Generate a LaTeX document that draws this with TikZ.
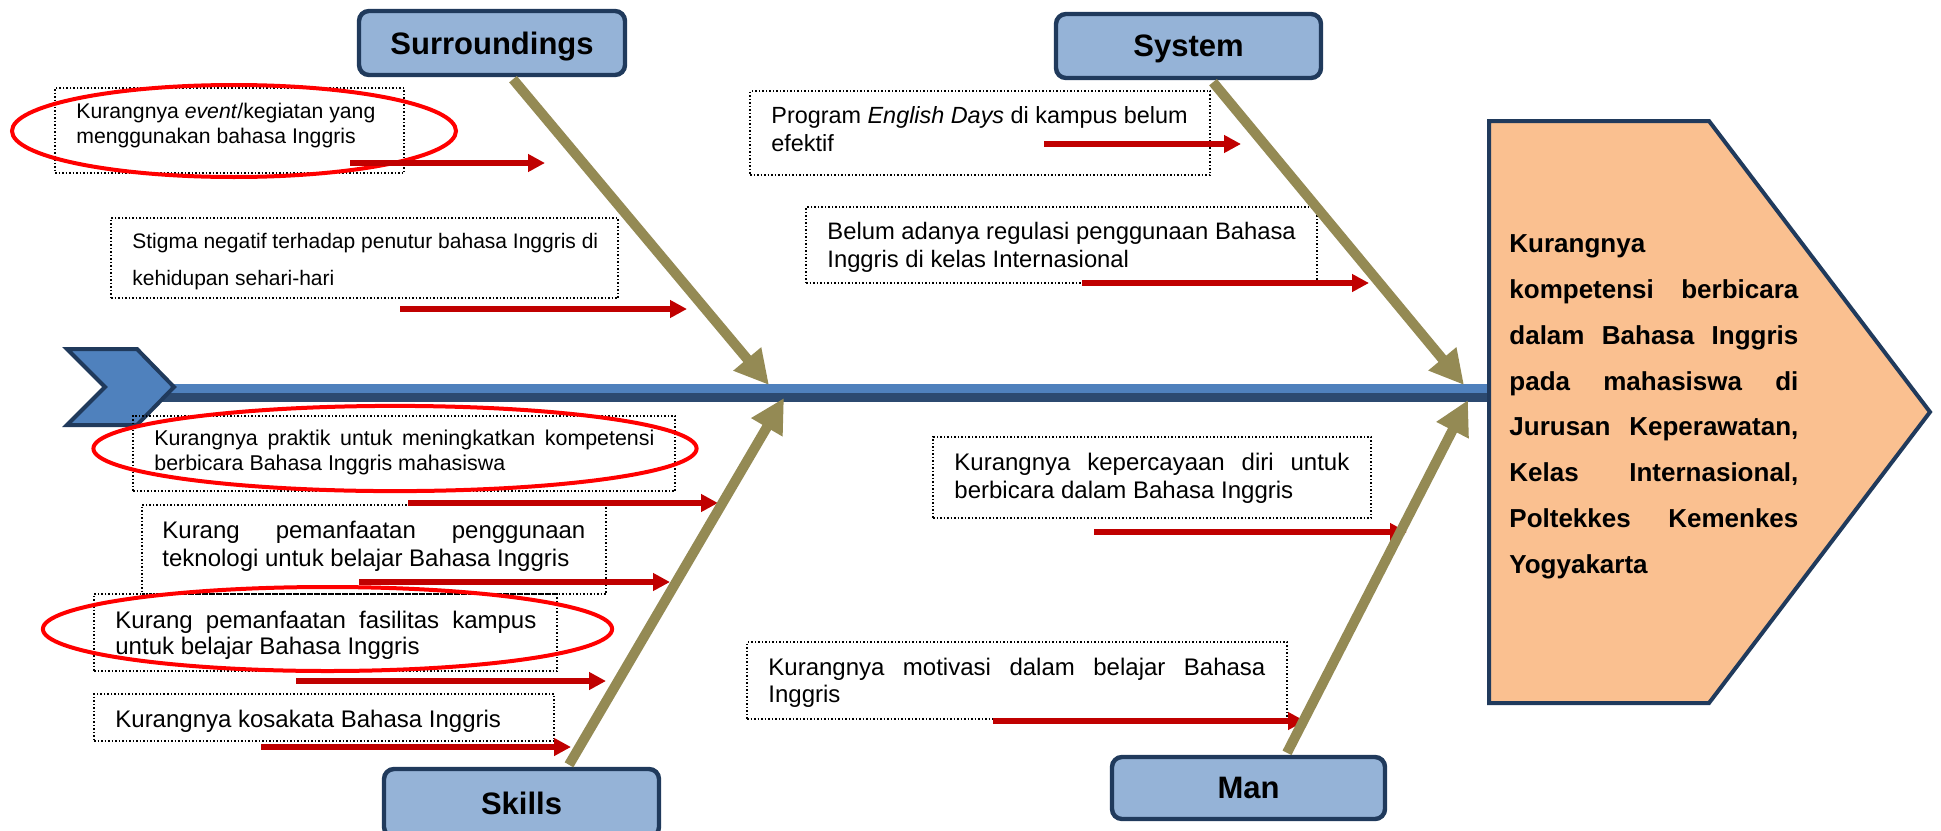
\documentclass[tikz,border=0pt]{standalone}
\usepackage{fontspec}
\setmainfont{Liberation Sans}
\usetikzlibrary{arrows.meta,calc}
\definecolor{navy}{HTML}{203A5C}
\definecolor{headfill}{HTML}{95B3D7}
\definecolor{chevfill}{HTML}{4F81BD}
\definecolor{spinedark}{HTML}{2C4A70}
\definecolor{effectfill}{HTML}{FAC090}
\definecolor{bonecol}{HTML}{948A54}
\definecolor{arrred}{HTML}{C00000}
\definecolor{ellred}{HTML}{FF0000}
\tikzset{
  header/.style={draw=navy, line width=2.2pt, fill=headfill, rounded corners=5pt,
    font=\fontsize{15.5}{18}\selectfont\bfseries, text depth=0pt, inner sep=0pt},
  cbox/.style={draw=black, densely dotted, line width=0.75pt, inner sep=0pt},
  ctext/.style={anchor=north west, inner sep=0pt, align=left},
  bone/.style={draw=bonecol, line width=5pt, -{Triangle[length=17pt,width=17pt]}},
  redarrow/.style={draw=arrred, line width=3pt, -{Triangle[length=8.5pt,width=8.5pt]}},
  ring/.style={draw=ellred, line width=2pt},
}
\begin{document}
\begin{tikzpicture}[x=0.5pt,y=-0.5pt]
\useasboundingbox (0,0) rectangle (1941,830);

% spine
\coordinate (spineL) at (140,393);
\coordinate (spineR) at (1487,393);
\draw[spinedark, line width=4.5pt] ([yshift=-2.25pt]spineL) -- ([yshift=-2.25pt]spineR);
\draw[chevfill, line width=4.5pt] ([yshift=2.25pt]spineL) -- ([yshift=2.25pt]spineR);

% head chevron
\draw[draw=navy, line width=2pt, fill=chevfill, line join=miter]
  (67,349) -- (137,349) -- (174,387) -- (137,425) -- (67,425) -- (105,387) -- cycle;

% effect pentagon
\draw[draw=navy, line width=2pt, fill=effectfill, line join=miter]
  (1489,121) -- (1709,121) -- (1930,412) -- (1709,703) -- (1489,703) -- cycle;
\node[ctext, font=\bfseries\fontsize{13}{22.9}\selectfont] (effect) at (1509,234.4)
  {Kurangnya\\
   \makebox[144.5pt][s]{kompetensi berbicara}\\
   \makebox[144.5pt][s]{dalam Bahasa Inggris}\\
   \makebox[144.5pt][s]{pada mahasiswa di}\\
   \makebox[144.5pt][s]{Jurusan Keperawatan,}\\
   \makebox[144.5pt][s]{Kelas Internasional,}\\
   \makebox[144.5pt][s]{Poltekkes Kemenkes}\\
   Yogyakarta};

% cause boxes
\node[cbox, minimum width=174.5pt, minimum height=42.5pt] (c1) at (229.5,130.5) {};
\node[cbox, minimum width=253.5pt, minimum height=40pt] (c2) at (364.5,258) {};
\node[cbox, minimum width=230pt, minimum height=42pt] (c3) at (980,133) {};
\node[cbox, minimum width=255.5pt, minimum height=38pt] (c4) at (1061.5,245) {};
\node[cbox, minimum width=271pt, minimum height=37.5pt] (c5) at (404,453.5) {};
\node[cbox, minimum width=232pt, minimum height=44.5pt] (c6) at (374,549.5) {};
\node[cbox, minimum width=231.5pt, minimum height=38.5pt] (c7) at (325.5,632.5) {};
\node[cbox, minimum width=230pt, minimum height=23.5pt] (c8) at (324,717.5) {};
\node[cbox, minimum width=219pt, minimum height=40.5pt] (c9) at (1152,477.5) {};
\node[cbox, minimum width=270pt, minimum height=38.5pt] (c10) at (1017,680.5) {};

% cause texts
\node[ctext, font=\fontsize{10.6}{12.5}\selectfont] (t1) at (76,102.8)
  {Kurangnya \textit{event}/kegiatan yang\\menggunakan bahasa Inggris};
\node[ctext, font=\fontsize{10.5}{18.5}\selectfont] (t2) at (132,233)
  {Stigma negatif terhadap penutur bahasa Inggris di\\kehidupan sehari-hari};
\node[ctext, font=\fontsize{11.7}{14}\selectfont] (t3) at (771,106.2)
  {Program \textit{English Days} di kampus belum\\efektif};
\node[ctext, font=\fontsize{11.9}{14}\selectfont] (t4) at (827,222)
  {Belum adanya regulasi penggunaan Bahasa\\Inggris di kelas Internasional};
\node[ctext, font=\fontsize{10.7}{12.5}\selectfont] (t5) at (154,429.7)
  {\makebox[250pt][s]{Kurangnya praktik untuk meningkatkan kompetensi}\\berbicara Bahasa Inggris mahasiswa};
\node[ctext, font=\fontsize{12}{14}\selectfont] (t6) at (162,520.8)
  {\makebox[211.5pt][s]{Kurang pemanfaatan penggunaan}\\teknologi untuk belajar Bahasa Inggris};
\node[ctext, font=\fontsize{12}{13}\selectfont] (t7) at (115,610.8)
  {\makebox[210.5pt][s]{Kurang pemanfaatan fasilitas kampus}\\untuk belajar Bahasa Inggris};
\node[ctext, font=\fontsize{12}{14}\selectfont] (t8) at (115,709.8)
  {Kurangnya kosakata Bahasa Inggris};
\node[ctext, font=\fontsize{12}{14}\selectfont] (t9) at (954,452.8)
  {\makebox[197.5pt][s]{Kurangnya kepercayaan diri untuk}\\berbicara dalam Bahasa Inggris};
\node[ctext, font=\fontsize{12}{13.5}\selectfont] (t10) at (768,657.8)
  {\makebox[248.5pt][s]{Kurangnya motivasi dalam belajar Bahasa}\\Inggris};

% red rings
\draw[ring] (234,131) ellipse [x radius=111pt, y radius=23pt];
\draw[ring] (395,448.5) ellipse [x radius=150.8pt, y radius=21.3pt];
\draw[ring] (327.5,629) ellipse [x radius=142.3pt, y radius=21pt];

% red arrows
\coordinate (a1s) at (350,163);  \coordinate (a1e) at (545,163);
\coordinate (a2s) at (400,309);  \coordinate (a2e) at (687,309);
\coordinate (a3s) at (1044,144); \coordinate (a3e) at (1241,144);
\coordinate (a4s) at (1082,283); \coordinate (a4e) at (1369,283);
\coordinate (a5s) at (408,503);  \coordinate (a5e) at (718,503);
\coordinate (a6s) at (359,582);  \coordinate (a6e) at (670,582);
\coordinate (a7s) at (296,681);  \coordinate (a7e) at (606,681);
\coordinate (a8s) at (261,747);  \coordinate (a8e) at (571,747);
\coordinate (a9s) at (1094,532); \coordinate (a9e) at (1407,532);
\coordinate (a10s) at (993,721); \coordinate (a10e) at (1305,721);
\foreach \i in {1,...,10} {\draw[redarrow] (a\i s) -- (a\i e);}

% header boxes
\node[header, minimum width=133pt, minimum height=32pt] (sur) at (492,43) {Surroundings};
\node[header, minimum width=132.5pt, minimum height=32pt] (sys) at (1188.5,46) {System};
\node[header, minimum width=137.5pt, minimum height=34pt] (skl) at (521.5,803) {Skills};
\node[header, minimum width=136.5pt, minimum height=31pt] (man) at (1248.5,788) {Man};

% bones
\coordinate (tipSur) at (769,385);
\coordinate (tipSys) at (1464,385);
\coordinate (tipSkl) at (784,398);
\coordinate (tipMan) at (1468,400);
\draw[bone] ([xshift=10.5pt,yshift=-1pt]sur.south) -- (tipSur);
\draw[bone] ([xshift=12.25pt,yshift=-1pt]sys.south) -- (tipSys);
\draw[bone] ([xshift=23.75pt,yshift=1pt]skl.north) -- (tipSkl);
\draw[bone] ([xshift=19.25pt,yshift=1pt]man.north) -- (tipMan);
\end{tikzpicture}
\end{document}
